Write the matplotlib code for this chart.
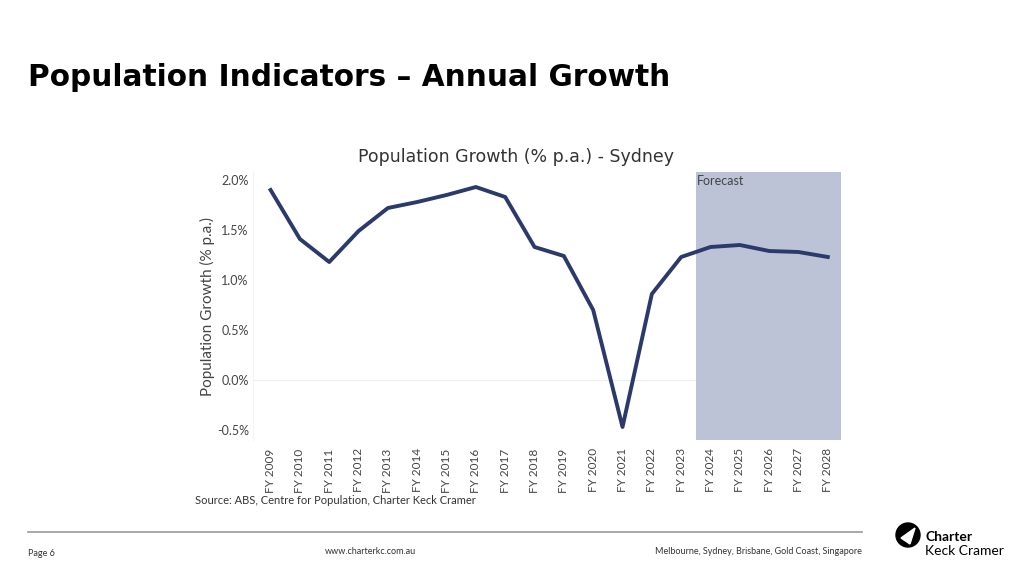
import matplotlib
matplotlib.use("Agg")
import matplotlib.pyplot as plt
from matplotlib.patches import Circle, Polygon
from matplotlib.lines import Line2D

years = ["FY 2009", "FY 2010", "FY 2011", "FY 2012", "FY 2013", "FY 2014", "FY 2015",
         "FY 2016", "FY 2017", "FY 2018", "FY 2019", "FY 2020", "FY 2021", "FY 2022",
         "FY 2023", "FY 2024", "FY 2025", "FY 2026", "FY 2027", "FY 2028"]
growth = [1.90, 1.41, 1.18, 1.49, 1.72, 1.78, 1.85, 1.93, 1.83, 1.33, 1.24, 0.70,
          -0.47, 0.86, 1.23, 1.33, 1.35, 1.29, 1.28, 1.23]
yticks = [-0.5, 0.0, 0.5, 1.0, 1.5, 2.0]
ytick_labels = ["-0.5%", "0.0%", "0.5%", "1.0%", "1.5%", "2.0%"]
forecast_start = 15

plt.rcParams['font.family'] = ['Lato', 'DejaVu Sans']

W, H = 1024, 576
fig = plt.figure(figsize=(10.24, 5.76), dpi=100)
fig.patch.set_facecolor("white")

def fx(px):
    return px / W
def fy(py):
    return 1 - py / H

# Plot area (pixel coords)
l, r, t, b = 253, 841, 172, 440
ax = fig.add_axes([fx(l), fy(b), fx(r - l), (b - t) / H])

x = list(range(len(years)))
ax.axhline(0, color="#eeeeee", lw=0.8, zorder=0)
ax.axvspan(forecast_start - 0.5, len(years) - 0.55, color="#bcc3d6", lw=0, zorder=1)
ax.plot(x, growth, color="#2b3a6b", lw=2.8, solid_joinstyle="round", zorder=3)
ax.text(forecast_start - 0.45, 2.05, "Forecast", fontsize=9, color="#444444",
        va="top", ha="left", zorder=4)

ax.set_xlim(-0.6, len(years) - 0.55)
ax.set_ylim(-0.60, 2.08)
ax.set_xticks(x)
ax.set_xticklabels(years, rotation=90, fontsize=8.5, color="#444444")
ax.set_yticks(yticks)
ax.set_yticklabels(ytick_labels, fontsize=9, color="#444444")
ax.tick_params(axis="y", length=0, pad=3)
ax.tick_params(axis="x", length=0, pad=6)
for s in ax.spines.values():
    s.set_visible(False)
ax.spines['left'].set_visible(True)
ax.spines['left'].set_color("#f3f3f3")
ax.set_ylabel("Population Growth (% p.a.)", fontsize=11, color="#444444", labelpad=1)

# Titles
fig.text(fx(28), fy(78), "Population Indicators \u2013 Annual Growth", fontsize=21.3,
         fontweight="bold", color="black", va="center", ha="left", family="DejaVu Sans")
fig.text(fx(516), fy(157), "Population Growth (% p.a.) - Sydney", fontsize=12.5,
         color="#333333", va="center", ha="center", family="DejaVu Sans")
fig.text(fx(195), fy(500), "Source: ABS, Centre for Population, Charter Keck Cramer",
         fontsize=8, color="#333333", va="center", ha="left")

# Footer
fig.add_artist(Line2D([fx(28), fx(862)], [fy(532), fy(532)], color="#999999", lw=1.2))
fig.text(fx(28), fy(553), "Page 6", fontsize=6.5, color="#333333", va="center", ha="left")
fig.text(fx(325), fy(551), "www.charterkc.com.au", fontsize=6.5, color="#333333",
         va="center", ha="left")
fig.text(fx(862), fy(551), "Melbourne, Sydney, Brisbane, Gold Coast, Singapore",
         fontsize=6.5, color="#333333", va="center", ha="right")

# Logo
logo_ax = fig.add_axes([0, 0, 1, 1], zorder=-1)
logo_ax.set_xlim(0, W)
logo_ax.set_ylim(H, 0)
logo_ax.axis("off")
logo_ax.add_patch(Circle((908, 535), 12, color="black"))
logo_ax.add_patch(Polygon([[901, 538], [915, 528], [910, 544]], closed=True, color="white"))
fig.text(fx(925), fy(537), "Charter", fontsize=10, fontweight="bold", color="black",
         va="center", ha="left")
fig.text(fx(925), fy(551), "Keck Cramer", fontsize=10, color="black",
         va="center", ha="left")

fig.savefig("out.png", dpi=100)
